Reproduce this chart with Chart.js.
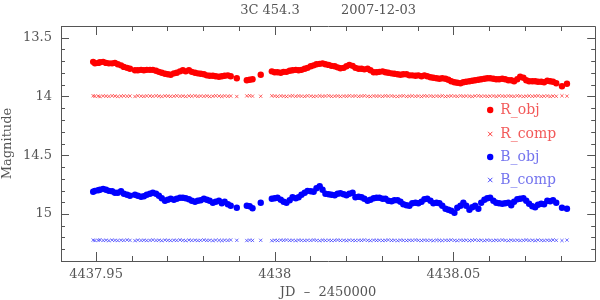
<!DOCTYPE html>
<html>
<head>
<meta charset="utf-8">
<script src="https://cdn.jsdelivr.net/npm/chart.js@4/dist/chart.umd.min.js"></script>
<style>
html,body{margin:0;padding:0;background:#fff;}
#wrap{width:600px;height:300px;}
</style>
</head>
<body>
<div id="wrap"><canvas id="c" width="600" height="300"></canvas></div>
<script>
// ---- data (JD - 2450000, magnitudes) ----
const titleText = '3C 454.3          2007-12-03';
const seriesLabels = ['R_obj', 'R_comp', 'B_obj', 'B_comp'];
const xMajorTicks = [4437.95, 4438.00, 4438.05];
const yMajorTicks = [13.5, 14.0, 14.5, 15.0];

const jd = [
4437.9492,4437.9497,4437.9506,4437.9511,4437.9520,4437.9528,4437.9536,4437.9545,4437.9553,4437.9561,
4437.9570,4437.9578,4437.9587,4437.9595,4437.9609,4437.9617,4437.9626,4437.9634,4437.9642,4437.9651,
4437.9659,4437.9668,4437.9676,4437.9684,4437.9693,4437.9701,4437.9709,4437.9718,4437.9726,4437.9735,
4437.9743,4437.9751,4437.9760,4437.9768,4437.9777,4437.9785,4437.9793,4437.9802,4437.9810,4437.9818,
4437.9827,4437.9835,4437.9844,4437.9852,4437.9860,4437.9869,4437.9877,4437.9894,4437.9922,4437.9930,
4437.9938,4437.9961,4437.9992,4438.0000,4438.0008,4438.0017,4438.0025,4438.0033,4438.0042,4438.0050,
4438.0059,4438.0067,4438.0075,4438.0084,4438.0092,4438.0101,4438.0109,4438.0117,4438.0126,4438.0134,
4438.0142,4438.0151,4438.0159,4438.0168,4438.0176,4438.0184,4438.0193,4438.0201,4438.0209,4438.0218,
4438.0226,4438.0235,4438.0243,4438.0251,4438.0260,4438.0268,4438.0277,4438.0285,4438.0293,4438.0302,
4438.0310,4438.0318,4438.0327,4438.0335,4438.0344,4438.0352,4438.0360,4438.0369,4438.0377,4438.0385,
4438.0394,4438.0402,4438.0411,4438.0419,4438.0427,4438.0436,4438.0444,4438.0453,4438.0461,4438.0469,
4438.0478,4438.0486,4438.0494,4438.0503,4438.0511,4438.0520,4438.0528,4438.0536,4438.0545,4438.0553,
4438.0561,4438.0570,4438.0578,4438.0587,4438.0595,4438.0603,4438.0612,4438.0620,4438.0628,4438.0637,
4438.0645,4438.0654,4438.0662,4438.0670,4438.0679,4438.0687,4438.0696,4438.0704,4438.0712,4438.0721,
4438.0729,4438.0737,4438.0746,4438.0754,4438.0763,4438.0771,4438.0779,4438.0788,4438.0804,4438.0818
];

const rObj = [
13.705,13.718,13.714,13.709,13.705,13.714,13.718,13.718,13.714,13.726,
13.735,13.748,13.756,13.764,13.777,13.777,13.773,13.777,13.773,13.773,
13.773,13.781,13.790,13.798,13.807,13.811,13.815,13.803,13.798,13.786,
13.777,13.786,13.777,13.790,13.798,13.803,13.807,13.811,13.820,13.824,
13.824,13.828,13.832,13.828,13.824,13.820,13.828,13.845,13.862,13.858,
13.853,13.815,13.786,13.794,13.794,13.798,13.790,13.790,13.781,13.777,
13.773,13.777,13.773,13.764,13.756,13.743,13.735,13.726,13.722,13.718,
13.726,13.731,13.739,13.743,13.752,13.760,13.756,13.743,13.731,13.739,
13.756,13.764,13.764,13.769,13.764,13.777,13.794,13.794,13.790,13.786,
13.794,13.798,13.803,13.807,13.811,13.815,13.811,13.811,13.820,13.820,
13.824,13.820,13.828,13.820,13.828,13.836,13.841,13.845,13.849,13.845,
13.849,13.858,13.870,13.879,13.883,13.887,13.879,13.875,13.870,13.866,
13.862,13.858,13.853,13.849,13.845,13.845,13.849,13.853,13.853,13.849,
13.853,13.862,13.862,13.870,13.853,13.832,13.841,13.862,13.870,13.870,
13.870,13.875,13.875,13.879,13.866,13.870,13.875,13.887,13.913,13.892
];

const rComp = [
13.994,13.998,13.996,14.001,13.995,13.997,13.999,13.994,13.996,14.000,
13.997,13.995,13.998,13.996,14.000,13.994,13.997,13.999,13.995,13.996,
13.998,13.994,13.997,14.000,13.995,13.996,13.999,13.997,13.994,13.998,
13.996,14.000,13.995,13.997,13.994,13.999,13.996,13.998,13.995,14.000,
13.997,13.994,13.996,13.999,13.995,13.998,13.996,14.000,13.995,13.993,
13.997,13.998,13.994,13.996,13.999,13.995,13.997,14.000,13.996,13.994,
13.998,13.995,13.997,13.999,13.994,13.996,14.000,13.997,13.995,13.998,
13.996,13.994,13.999,13.997,13.995,14.000,13.996,13.998,13.994,13.997,
13.995,13.999,13.996,13.994,13.998,14.000,13.995,13.997,13.996,13.999,
13.994,13.997,13.995,13.998,14.000,13.996,13.994,13.999,13.997,13.995,
13.998,13.996,14.000,13.994,13.997,13.995,13.999,13.996,13.998,13.994,
14.000,13.997,13.995,13.996,13.999,13.994,13.998,13.996,13.997,14.000,
13.995,13.994,13.998,13.996,13.999,13.997,13.995,14.000,13.994,13.996,
13.998,13.995,13.997,13.999,13.994,13.996,14.000,13.997,13.995,13.998,
13.996,13.994,13.999,13.997,13.995,14.000,13.996,13.998,13.994,13.997
];

const bObj = [
14.811,14.803,14.798,14.794,14.786,14.794,14.803,14.807,14.819,14.819,
14.807,14.828,14.836,14.845,14.836,14.845,14.853,14.849,14.836,14.828,
14.819,14.828,14.845,14.866,14.887,14.879,14.870,14.879,14.870,14.862,
14.862,14.866,14.875,14.887,14.896,14.887,14.883,14.870,14.879,14.887,
14.904,14.896,14.887,14.908,14.896,14.917,14.930,14.947,14.930,14.934,
14.951,14.904,14.870,14.866,14.862,14.879,14.896,14.904,14.883,14.858,
14.866,14.858,14.836,14.819,14.803,14.807,14.811,14.781,14.764,14.794,
14.828,14.832,14.836,14.841,14.828,14.824,14.832,14.841,14.828,14.819,
14.858,14.853,14.858,14.870,14.887,14.879,14.866,14.862,14.862,14.870,
14.870,14.887,14.892,14.883,14.883,14.896,14.917,14.925,14.930,14.908,
14.904,14.908,14.896,14.875,14.870,14.887,14.908,14.904,14.908,14.930,
14.955,14.964,14.972,14.989,14.947,14.930,14.904,14.930,14.964,14.942,
14.930,14.955,14.904,14.879,14.866,14.862,14.887,14.904,14.908,14.913,
14.908,14.904,14.925,14.896,14.875,14.870,14.866,14.887,14.913,14.934,
14.942,14.921,14.913,14.917,14.887,14.892,14.883,14.904,14.947,14.955
];

const bComp = [
15.222,15.226,15.224,15.220,15.225,15.223,15.227,15.222,15.224,15.226,
15.223,15.225,15.221,15.224,15.227,15.222,15.225,15.223,15.226,15.224,
15.221,15.225,15.223,15.227,15.222,15.224,15.226,15.223,15.225,15.221,
15.224,15.227,15.222,15.225,15.223,15.226,15.224,15.221,15.225,15.223,
15.227,15.222,15.224,15.226,15.223,15.225,15.221,15.224,15.226,15.222,
15.225,15.224,15.227,15.223,15.226,15.222,15.224,15.221,15.225,15.223,
15.227,15.222,15.224,15.226,15.223,15.225,15.221,15.224,15.227,15.222,
15.225,15.223,15.226,15.224,15.221,15.225,15.223,15.227,15.222,15.224,
15.226,15.223,15.225,15.221,15.224,15.227,15.222,15.225,15.223,15.226,
15.224,15.221,15.225,15.223,15.227,15.222,15.224,15.226,15.223,15.225,
15.221,15.224,15.226,15.222,15.225,15.223,15.227,15.222,15.224,15.226,
15.223,15.225,15.221,15.224,15.227,15.222,15.225,15.223,15.226,15.224,
15.221,15.225,15.223,15.227,15.222,15.224,15.226,15.223,15.225,15.221,
15.224,15.227,15.222,15.225,15.223,15.226,15.224,15.221,15.225,15.223,
15.227,15.222,15.224,15.226,15.223,15.225,15.221,15.224,15.226,15.222
];

// ---- styling ----
const TXT = '#555555';
const FRAME = '#555555';
const FONT = 'DejaVu Serif';
const colors = ['#ff0000', 'rgba(255,20,20,0.8)', '#0000ff', 'rgba(30,30,255,0.8)'];
const legendTextColors = ['rgba(240,60,60,0.85)', 'rgba(240,60,60,0.85)', 'rgba(90,90,235,0.85)', 'rgba(90,90,235,0.85)'];

function pts(ys) { return jd.map((x, i) => ({x: x, y: ys[i]})); }

function isMajor(v, list) { return list.some(m => Math.abs(m - v) < 1e-7); }

function fmt(v) {
  let s = v.toFixed(2);
  s = s.replace(/\.?0+$/, '');
  return s;
}

const frameTicks = {
  id: 'frameTicks',
  afterDatasetsDraw(chart) {
    const {ctx, chartArea: a, scales} = chart;
    ctx.save();
    ctx.strokeStyle = FRAME;
    ctx.lineWidth = 1;
    ctx.beginPath();
    ctx.rect(Math.round(a.left) + 0.5, Math.round(a.top) + 0.5, Math.round(a.right - a.left), Math.round(a.bottom - a.top));
    ctx.stroke();
    ctx.beginPath();
    scales.x.ticks.forEach(t => {
      const px = Math.round(scales.x.getPixelForValue(t.value)) + 0.5;
      const len = isMajor(t.value, xMajorTicks) ? 9 : 5;
      ctx.moveTo(px, a.bottom); ctx.lineTo(px, a.bottom - len);
      ctx.moveTo(px, a.top); ctx.lineTo(px, a.top + len);
    });
    scales.y.ticks.forEach(t => {
      const py = Math.round(scales.y.getPixelForValue(t.value)) + 0.5;
      const len = isMajor(t.value, yMajorTicks) ? 8 : 4;
      ctx.moveTo(a.left, py); ctx.lineTo(a.left + len, py);
      ctx.moveTo(a.right, py); ctx.lineTo(a.right - len, py);
    });
    ctx.stroke();
    ctx.restore();
  },
  afterDraw(chart) {
    const {ctx, chartArea: a} = chart;
    ctx.save();
    // title
    ctx.fillStyle = TXT;
    ctx.font = '13px "' + FONT + '"';
    ctx.textAlign = 'center';
    ctx.textBaseline = 'middle';
    ctx.fillText(titleText, (a.left + a.right) / 2, 11);
    // legend
    const mx = a.right - 105, tx = a.right - 95;
    const ys = [a.top + 84, a.top + 108, a.top + 131, a.top + 154];
    chart.data.datasets.forEach((ds, i) => {
      const y = ys[i];
      if (i % 2 === 0) {
        ctx.fillStyle = colors[i];
        ctx.beginPath(); ctx.arc(mx, y, 3.2, 0, Math.PI * 2); ctx.fill();
      } else {
        ctx.strokeStyle = colors[i];
        ctx.lineWidth = 1;
        ctx.beginPath();
        ctx.moveTo(mx - 2.2, y - 2.2); ctx.lineTo(mx + 2.2, y + 2.2);
        ctx.moveTo(mx - 2.2, y + 2.2); ctx.lineTo(mx + 2.2, y - 2.2);
        ctx.stroke();
      }
      ctx.fillStyle = legendTextColors[i];
      ctx.font = '14px "' + FONT + '"';
      ctx.textAlign = 'left';
      ctx.textBaseline = 'middle';
      ctx.fillText(ds.label, tx, y);
    });
    ctx.restore();
  }
};

new Chart(document.getElementById('c'), {
  type: 'scatter',
  data: {
    datasets: [
      {label: seriesLabels[0], data: pts(rObj), pointStyle: 'circle', pointRadius: 3.2, backgroundColor: colors[0], borderWidth: 0},
      {label: seriesLabels[1], data: pts(rComp), pointStyle: 'crossRot', pointRadius: 2.3, borderColor: colors[1], borderWidth: 0.8},
      {label: seriesLabels[2], data: pts(bObj), pointStyle: 'circle', pointRadius: 3.2, backgroundColor: colors[2], borderWidth: 0},
      {label: seriesLabels[3], data: pts(bComp), pointStyle: 'crossRot', pointRadius: 2.3, borderColor: colors[3], borderWidth: 0.8}
    ]
  },
  options: {
    responsive: false,
    animation: false,
    layout: {padding: {top: 26, right: 4, left: 0, bottom: 0}},
    plugins: {legend: {display: false}, tooltip: {enabled: false}, title: {display: false}},
    scales: {
      x: {
        type: 'linear', min: 4437.9402, max: 4438.0897,
        grid: {display: false, drawTicks: false},
        border: {display: false},
        afterBuildTicks(s) {
          const arr = [];
          for (let i = 0; i <= 13; i++) arr.push(+(4437.95 + i * 0.01).toFixed(2));
          s.ticks = arr.map(v => ({value: v}));
        },
        afterFit(s) { s.height = 39; },
        ticks: {
          autoSkip: false, maxRotation: 0, padding: 6, color: TXT,
          font: {family: FONT, size: 13},
          callback: v => isMajor(v, xMajorTicks) ? fmt(v) : ''
        },
        title: {display: true, text: 'JD  –  2450000', color: TXT, font: {family: FONT, size: 13}, padding: {top: 0, bottom: 0}}
      },
      y: {
        type: 'linear', min: 13.4, max: 15.4, reverse: true,
        grid: {display: false, drawTicks: false},
        border: {display: false},
        afterBuildTicks(s) {
          const arr = [];
          for (let i = 0; i <= 20; i++) arr.push(+(13.4 + i * 0.1).toFixed(1));
          s.ticks = arr.map(v => ({value: v}));
        },
        afterFit(s) { s.width = 61; },
        ticks: {
          autoSkip: false, padding: 9, color: TXT,
          font: {family: FONT, size: 13},
          callback: v => isMajor(v, yMajorTicks) ? fmt(v) : ''
        },
        title: {display: true, text: 'Magnitude', color: TXT, font: {family: FONT, size: 13}, padding: {top: 0, bottom: 0}}
      }
    }
  },
  plugins: [frameTicks]
});
</script>
</body>
</html>
